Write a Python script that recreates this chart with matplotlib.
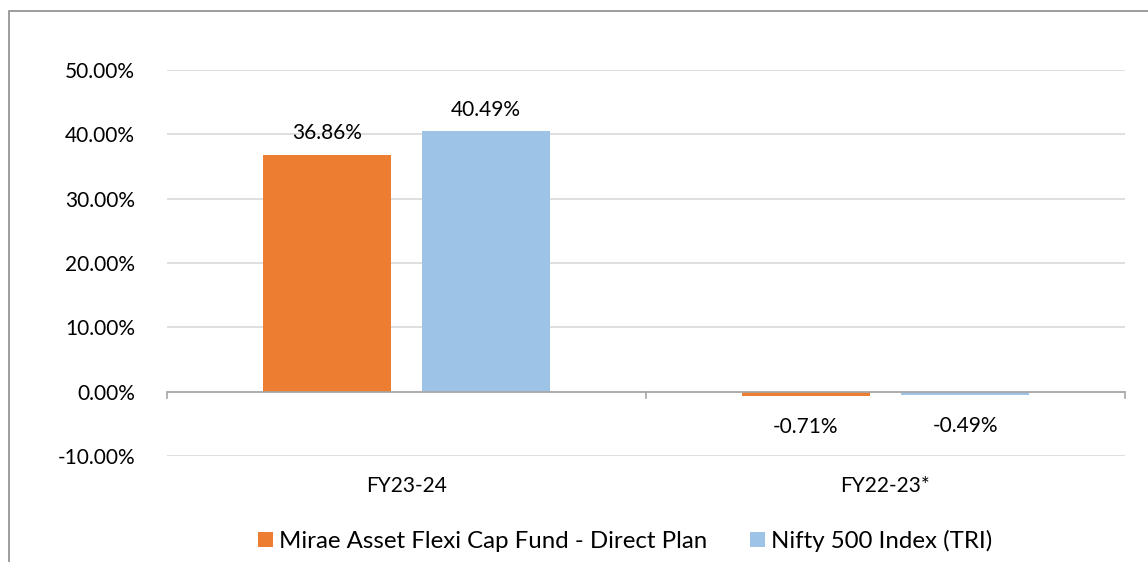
import matplotlib.pyplot as plt
import matplotlib.patches as mpatches
import numpy as np

# data
categories = ["FY23-24", "FY22-23*"]
series_names = ["Mirae Asset Flexi Cap Fund - Direct Plan", "Nifty 500 Index (TRI)"]
fund = [36.86, -0.71]
index = [40.49, -0.49]
yticks = [-10, 0, 10, 20, 30, 40, 50]
colors = ["#ED7D31", "#9DC3E6"]

plt.rcParams['font.family'] = ['Lato', 'DejaVu Sans']

fig = plt.figure(figsize=(11.48, 5.62), dpi=100)
ax = fig.add_axes([167/1148, 1-456/562, (1125-167)/1148, (456-70)/562])

# outer chart border (cut off at right/bottom like the source)
fig.patches.append(mpatches.Rectangle((8.5/1148, -0.05), 1.2, 1-10.5/562+0.05,
                                      transform=fig.transFigure, fill=False,
                                      edgecolor='#8c8c8c', linewidth=1.2, clip_on=False))

x = np.arange(len(categories))
w = 128/481
gap = 32/481
offs = [-(w+gap)/2, (w+gap)/2]
for vals, off, c, name in zip([fund, index], offs, colors, series_names):
    bars = ax.bar(x + off, vals, width=w, color=c, label=name, zorder=2)
    for b, v in zip(bars, vals):
        if v >= 0:
            ax.text(b.get_x()+b.get_width()/2, v+3.3, f"{v:.2f}%", ha='center', va='center', fontsize=15)
        else:
            ax.text(b.get_x()+b.get_width()/2, v-4.8, f"{v:.2f}%", ha='center', va='center', fontsize=15)

ax.set_xlim(-0.5, 1.5)
ax.set_ylim(-10, 50)
ax.set_yticks(yticks)
ax.set_yticklabels([f"{t:.2f}%" for t in yticks], fontsize=15)
ax.yaxis.grid(True, color='#d9d9d9', linewidth=1.2, zorder=0)
ax.set_axisbelow(True)
ax.tick_params(axis='y', length=0, pad=23)
for s in ['top', 'right', 'left', 'bottom']:
    ax.spines[s].set_visible(False)

# zero line with category ticks
ax.axhline(0, color='#a6a6a6', linewidth=1.2, zorder=3)
for xt in [-0.5, 0.5, 1.5]:
    ax.plot([xt, xt], [0, -1.0], color='#a6a6a6', linewidth=1.2, clip_on=False, zorder=3)

ax.set_xticks([])
for xi, cat in zip(x, categories):
    ax.text(xi, -14.7, cat, ha='center', va='center', fontsize=15)

ax.legend(loc='center', bbox_to_anchor=(625/1148, 1-541/562), bbox_transform=fig.transFigure,
          ncol=2, frameon=False, fontsize=17.3, handlelength=0.62, handleheight=0.62,
          handletextpad=0.25, columnspacing=1.8, borderpad=0)

fig.savefig('out.png', dpi=100, facecolor='white')
